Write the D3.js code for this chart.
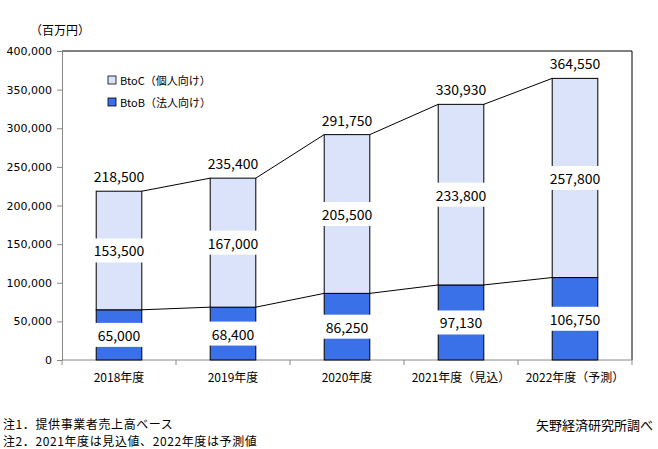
<!DOCTYPE html>
<html>
<head>
<meta charset="utf-8">
<script src="https://cdn.jsdelivr.net/npm/d3@7"></script>
<style>
  body { margin: 0; background: #fff; }
  text { font-family: "Noto Sans CJK JP", "DejaVu Sans", sans-serif; }
</style>
</head>
<body>
<div id="chart"></div>
<script>
const years = ["2018年度", "2019年度", "2020年度", "2021年度（見込）", "2022年度（予測）"];
const btob = [65000, 68400, 86250, 97130, 106750];
const btoc = [153500, 167000, 205500, 233800, 257800];
const totals = [218500, 235400, 291750, 330930, 364550];
const yTicks = [0, 50000, 100000, 150000, 200000, 250000, 300000, 350000, 400000];
const notes = ["注1．提供事業者売上高ベース", "注2．2021年度は見込値、2022年度は予測値"];

const width = 658, height = 449,
  margin = ({ top: 51, right: 26, bottom: 89, left: 62 });

const colorB = "#3a70e8", colorC = "#dae3fa";

const svg = d3.select("#chart").append("svg")
  .attr("width", width).attr("height", height);

const x = d3.scaleBand()
  .domain(years)
  .range([margin.left, width - margin.right])
  .paddingInner(0.6)
  .paddingOuter(0.3);

const y = d3.scaleLinear()
  .domain([0, 400000])
  .range([height - margin.bottom, margin.top]);

const fmt = d3.format(",");

// plot frame: top and right black
svg.append("path")
  .attr("d", `M${margin.left},${margin.top}H${width - margin.right}V${height - margin.bottom}`)
  .attr("fill", "none").attr("stroke", "#000");

// y axis
const yAxis = svg.append("g")
  .attr("transform", `translate(${margin.left},0)`)
  .call(d3.axisLeft(y).tickValues(yTicks).tickFormat(fmt).tickSize(5).tickPadding(5));
yAxis.select(".domain").attr("stroke", "#888");
yAxis.selectAll(".tick line").attr("stroke", "#888");
yAxis.selectAll("text").attr("fill", "#000")
  .style("font-family", "'DejaVu Sans', sans-serif").attr("font-size", 11);

// x axis
const xAxis = svg.append("g")
  .attr("transform", `translate(0,${height - margin.bottom})`);
xAxis.append("line")
  .attr("x1", margin.left).attr("x2", width - margin.right)
  .attr("stroke", "#888");
xAxis.selectAll("line.tk")
  .data(d3.range(years.length + 1))
  .join("line").attr("class", "tk")
  .attr("x1", i => margin.left + i * (width - margin.left - margin.right) / years.length)
  .attr("x2", i => margin.left + i * (width - margin.left - margin.right) / years.length)
  .attr("y1", 0).attr("y2", 5).attr("stroke", "#888");
xAxis.selectAll("text")
  .data(years)
  .join("text")
  .attr("x", d => x(d) + x.bandwidth() / 2)
  .attr("y", 22)
  .attr("text-anchor", "middle")
  .attr("font-size", 12)
  .text(d => d);

// series lines (connecting bar tops)
function seriesLine(vals) {
  const pts = [];
  for (let i = 0; i < years.length - 1; i++) {
    pts.push(`M${x(years[i]) + x.bandwidth()},${y(vals[i])}L${x(years[i + 1])},${y(vals[i + 1])}`);
  }
  return pts.join("");
}
svg.append("path").attr("d", seriesLine(totals)).attr("stroke", "#000").attr("fill", "none");
svg.append("path").attr("d", seriesLine(btob)).attr("stroke", "#000").attr("fill", "none");

// bars
const bars = svg.append("g");
bars.selectAll("rect.b")
  .data(years)
  .join("rect").attr("class", "b")
  .attr("x", d => x(d))
  .attr("y", (d, i) => y(btob[i]))
  .attr("width", x.bandwidth())
  .attr("height", (d, i) => y(0) - y(btob[i]))
  .attr("fill", colorB).attr("stroke", "#000");
bars.selectAll("rect.c")
  .data(years)
  .join("rect").attr("class", "c")
  .attr("x", d => x(d))
  .attr("y", (d, i) => y(totals[i]))
  .attr("width", x.bandwidth())
  .attr("height", (d, i) => y(btob[i]) - y(totals[i]))
  .attr("fill", colorC).attr("stroke", "#000");

// labels with white boxes
function boxedLabel(cx, cy, str) {
  const g = svg.append("g");
  const t = g.append("text")
    .attr("x", cx).attr("y", cy)
    .attr("text-anchor", "middle").attr("dominant-baseline", "central")
    .attr("font-size", 14).text(str);
  const w = t.node().getComputedTextLength();
  g.insert("rect", "text")
    .attr("x", cx - w / 2 - 4).attr("y", cy - 12)
    .attr("width", w + 8).attr("height", 24)
    .attr("fill", "#fff");
}
years.forEach((d, i) => {
  const cx = x(d) + x.bandwidth() / 2;
  boxedLabel(cx, y(btob[i] / 2), fmt(btob[i]));
  boxedLabel(cx, y(btob[i] + btoc[i] / 2), fmt(btoc[i]));
  svg.append("text")
    .attr("x", cx).attr("y", y(totals[i]) - 15)
    .attr("text-anchor", "middle").attr("dominant-baseline", "central")
    .attr("font-size", 14).text(fmt(totals[i]));
});

// legend
const legend = [["BtoC（個人向け）", colorC], ["BtoB（法人向け）", colorB]];
legend.forEach(([label, c], i) => {
  const ly = 80 + i * 22;
  svg.append("rect").attr("x", 108).attr("y", ly - 4).attr("width", 8).attr("height", 8)
    .attr("fill", c).attr("stroke", "#000").attr("stroke-width", 0.8);
  svg.append("text").attr("x", 120).attr("y", ly).attr("dominant-baseline", "central")
    .attr("font-size", 11).text(label);
});

// unit
svg.append("text").attr("x", 30).attr("y", 29).attr("dominant-baseline", "central")
  .attr("font-size", 12).text("（百万円）");

// notes
notes.forEach((n, i) => {
  svg.append("text").attr("x", 3).attr("y", 423 + i * 17.5).attr("dominant-baseline", "central")
    .attr("font-size", 12).attr("letter-spacing", 0.6).text(n);
});
svg.append("text").attr("x", 653).attr("y", 424).attr("text-anchor", "end")
  .attr("dominant-baseline", "central").attr("font-size", 13).text("矢野経済研究所調べ");
</script>
</body>
</html>
